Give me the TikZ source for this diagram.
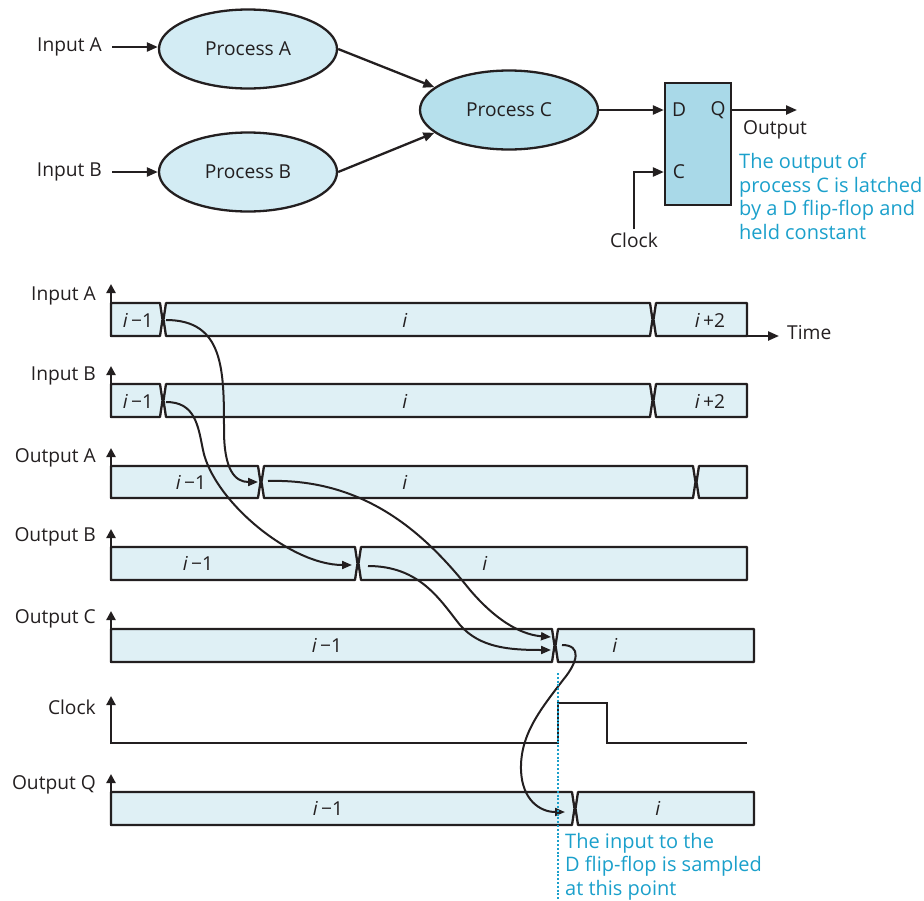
\documentclass[tikz,border=0pt]{standalone}
\usepackage{fontspec}
\setmainfont{Open Sans}
\usetikzlibrary{shapes.geometric,arrows.meta}
\definecolor{ink}{HTML}{231F20}
\definecolor{procfill}{HTML}{D3ECF4}
\definecolor{procCfill}{HTML}{B6E0EC}
\definecolor{fffill}{HTML}{A9D9E8}
\definecolor{barfill}{HTML}{DFF0F5}
\definecolor{noteblue}{HTML}{1BA0CB}
\newcommand\tseg[6]{\draw[segbar] (#1,#5) -- (#3,#5) -- (#4,{(#5+#6)/2}) -- (#3,#6) -- (#1,#6) -- (#2,{(#5+#6)/2}) -- cycle;}
\newcommand\iminus{\textit{i}\hspace{3pt}−1}
\newcommand\iplus{\textit{i}\hspace{3pt}+2}
\tikzset{
  ln/.style={draw=ink, line width=2.3pt},
  arr/.style={ln, -{Triangle[length=11pt,width=9pt]}},
  carr/.style={draw=ink, line width=2pt, -{Triangle[length=10pt,width=8pt]}},
  axarr/.style={draw=ink, line width=2.3pt, -{Triangle[length=9pt,width=9pt]}},
  proc/.style={ellipse, draw=ink, line width=2.3pt, fill=procfill, minimum width=178pt, minimum height=79pt, inner sep=0pt},
  segbar/.style={draw=ink, fill=barfill, line width=2.3pt, line join=round},
  lbl/.style={inner sep=0pt},
  note/.style={text=noteblue, align=left, inner sep=0pt, font=\fontsize{20}{23.5}\selectfont},
  sample/.style={draw=noteblue, line width=2.5pt, dash pattern=on 2pt off 1.8pt},
}
\begin{document}
\begin{tikzpicture}[x=1pt,y=-1pt, font=\fontsize{19.2}{23.5}\selectfont, text=ink]
\useasboundingbox (0,0) rectangle (924,900);
% ---------- top block diagram ----------
\node[proc] (pA) at (248,49) {Process A};
\node[proc] (pB) at (248,172) {Process B};
\node[proc, fill=procCfill] (pC) at (509,110) {Process C};
\node[lbl, anchor=east] (inA) at (102,47) {Input A};
\node[lbl, anchor=east] (inB) at (102,172) {Input B};
\draw[arr, shorten <=10pt] (inA.east) -- (pA.west |- inA.east);
\draw[arr, shorten <=10pt] (inB.east) -- (pB.west |- inB.east);
\draw[arr] (pA.east) -- (pC.163);
\draw[arr] (pB.east) -- (pC.197);
\node[draw=ink, line width=2.3pt, fill=fffill, minimum width=66pt, minimum height=122pt, inner sep=0pt] (ff) at (698,144) {};
\node[lbl] (dl) at (679,110) {D};
\node[lbl] (ql) at (718,110) {Q};
\node[lbl] (cl) at (679,172) {C};
\draw[arr] (pC.east) -- (pC.east -| ff.west);
\coordinate (qout) at (797,110);
\draw[arr] (ff.east |- qout) -- (qout);
\node[lbl] (outl) at (775,130) {Output};
\node (clk) at (634,240) {Clock};
\draw[arr] (clk.north) |- (ff.west |- cl);
\node[note, anchor=north west] (note1) at (739,153) {The output of\\process C is latched\\by a D flip-flop and\\held constant};
% ---------- timing diagram ----------
% Input A
\tseg{111}{111}{160}{162.5}{303}{336}
\tseg{166}{163.5}{650}{652.5}{303}{336}
\tseg{656}{653.5}{747}{747}{303}{336}
\draw[axarr] (111,337) -- (111,284);
\node[lbl, anchor=east] (lInA) at (96,296) {Input A};
\node (a1) at (138,320) {\iminus};
\node (a2) at (405,320) {\textit{i}};
\node (a3) at (710,320) {\iplus};
\coordinate (tEnd) at (779,336);
\draw[arr] (747,336) -- (tEnd);
\node[lbl, anchor=west] (timel) at (787,333) {Time};
% Input B
\tseg{111}{111}{160}{162.5}{384}{417}
\tseg{166}{163.5}{650}{652.5}{384}{417}
\tseg{656}{653.5}{747}{747}{384}{417}
\draw[axarr] (111,418) -- (111,366);
\node[lbl, anchor=east] (lInB) at (96,376) {Input B};
\node (b1) at (138,401) {\iminus};
\node (b2) at (405,401) {\textit{i}};
\node (b3) at (710,401) {\iplus};
% Output A
\tseg{111}{111}{258}{260.5}{466}{498}
\tseg{264}{261.5}{693}{695.5}{466}{498}
\tseg{699}{696.5}{747}{747}{466}{498}
\draw[axarr] (111,499) -- (111,448);
\node[lbl, anchor=east] (lOutA) at (96,458) {Output A};
\node (oa1) at (191,482) {\iminus};
\node (oa2) at (405,482) {\textit{i}};
% Output B
\tseg{111}{111}{355}{357.5}{547}{580}
\tseg{361}{358.5}{747}{747}{547}{580}
\draw[axarr] (111,581) -- (111,529);
\node[lbl, anchor=east] (lOutB) at (96,537) {Output B};
\node (ob1) at (198,563) {\iminus};
\node (ob2) at (485,563) {\textit{i}};
% Output C
\tseg{111}{111}{552}{554.5}{629}{662}
\tseg{558}{555.5}{754}{754}{629}{662}
\draw[axarr] (111,663) -- (111,611);
\node[lbl, anchor=east] (lOutC) at (96,619) {Output C};
\node (oc1) at (327,645) {\iminus};
\node (oc2) at (615,645) {\textit{i}};
% Clock
\draw[ln] (111,743) -- (558,743) -- (558,703) -- (607,703) -- (607,743) -- (747,743);
\draw[axarr] (111,744) -- (111,696);
\node[lbl, anchor=east] (lClk) at (96,707) {Clock};
% Output Q
\tseg{111}{111}{572}{574.5}{792}{825}
\tseg{578}{575.5}{754}{754}{792}{825}
\draw[axarr] (111,826) -- (111,774);
\node[lbl, anchor=east] (lQ) at (96,785) {Output Q};
\node (q1) at (328,808) {\iminus};
\node (q2) at (658,808) {\textit{i}};
% ---------- causal arrows ----------
\coordinate (s1) at (166,320);  \coordinate (e1) at (258,482);
\coordinate (s2) at (166,402);  \coordinate (e2) at (352,565);
\coordinate (s3) at (268,481);  \coordinate (e3) at (551,637);
\coordinate (s4) at (368,566);  \coordinate (e4) at (551,650);
\coordinate (s5) at (562,645);  \coordinate (e5) at (565,812);
\draw[carr] (s1) .. controls (224,320) and (224,370) .. (224,430) .. controls (224,470) and (235,482) .. (e1);
\draw[carr] (s2) .. controls (195,402) and (198,425) .. (203,450) .. controls (213,500) and (290,565) .. (e2);
\draw[carr] (s3) .. controls (370,478) and (430,540) .. (470,590) .. controls (500,625) and (525,635) .. (e3);
\draw[carr] (s4) .. controls (420,566) and (440,600) .. (460,625) .. controls (480,648) and (510,650) .. (e4);
\draw[carr] (s5) .. controls (582,645) and (578,662) .. (563,680) .. controls (540,710) and (520,735) .. (521,770) .. controls (522,800) and (540,812) .. (e5);
% ---------- sampling point ----------
\coordinate (smTop) at (558,673);
\coordinate (smBot) at (558,900);
\draw[sample] (smTop) -- (smBot);
\node[note, anchor=north west] (note2) at (565,833) {The input to the\\D flip-flop is sampled\\at this point};
\end{tikzpicture}
\end{document}
